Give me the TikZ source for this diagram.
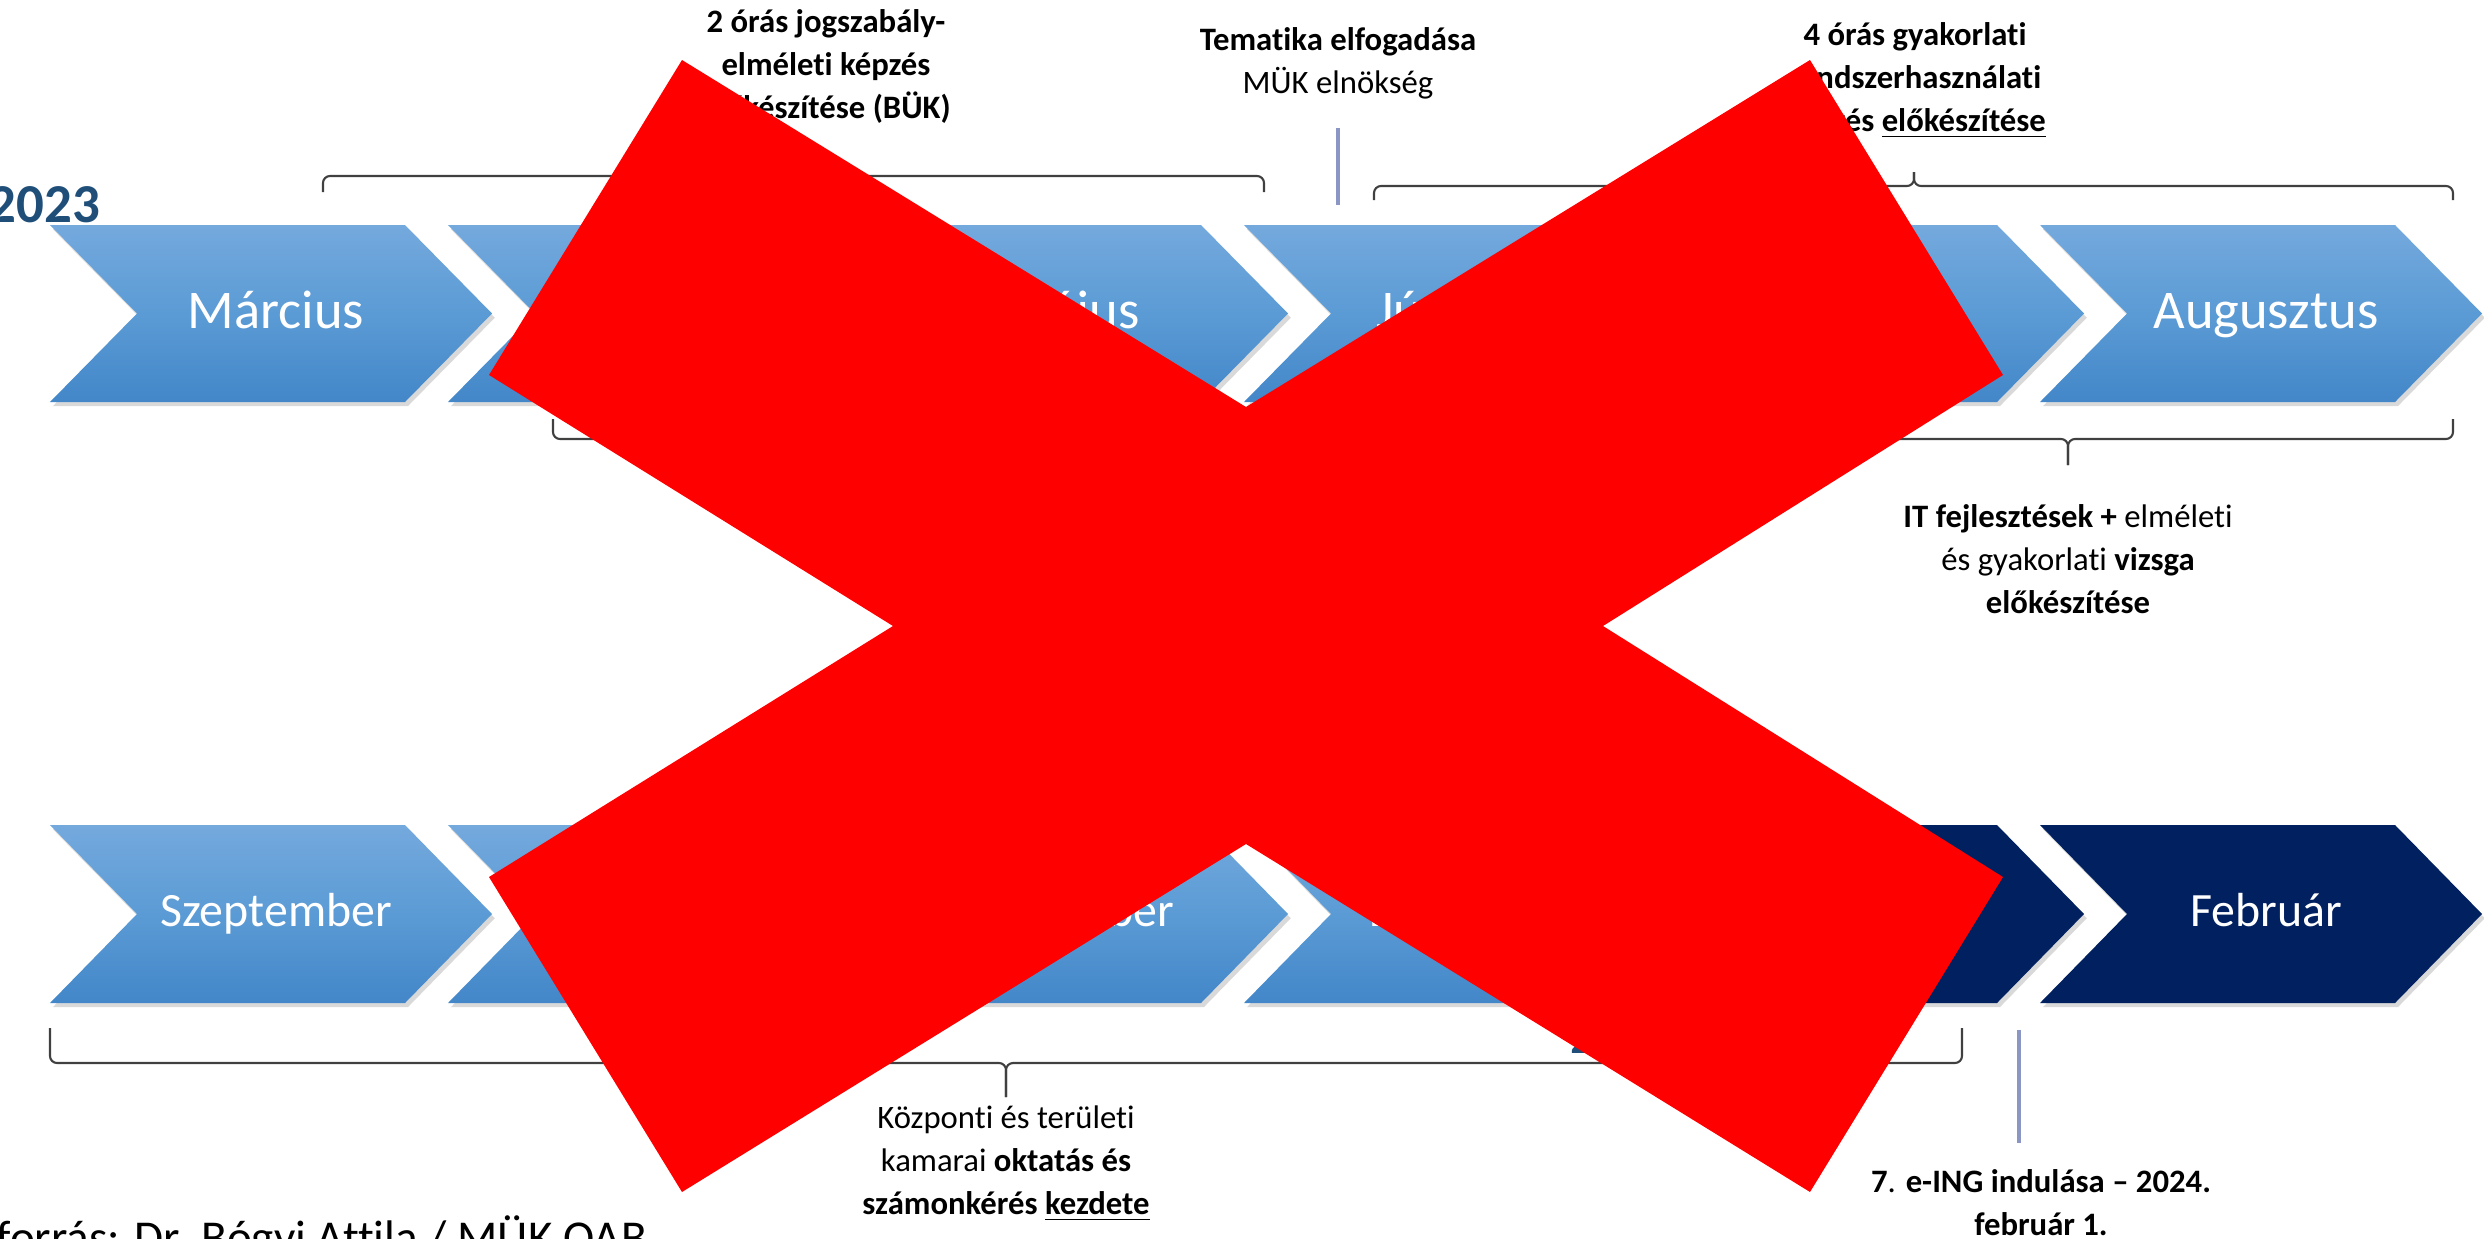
\documentclass[tikz,border=0pt]{standalone}
\usepackage{fontspec}
\setmainfont{Carlito}[Ligatures=NoCommon]
\usetikzlibrary{shadows}

\definecolor{chevtop}{HTML}{74A9DD}
\definecolor{chevmid}{HTML}{5B9BD5}
\definecolor{chevbot}{HTML}{4387C9}
\definecolor{navy}{HTML}{002060}
\definecolor{yearblue}{HTML}{1F4E79}
\definecolor{tickblue}{HTML}{8C96C4}
\definecolor{xred}{HTML}{FF0000}

\tikzset{
  chev/.style={top color=chevtop, bottom color=chevbot, middle color=chevmid,
    drop shadow={opacity=0.3, shadow xshift=0.8pt, shadow yshift=-1.2pt}},
  chevdark/.style={fill=navy,
    drop shadow={opacity=0.3, shadow xshift=0.8pt, shadow yshift=-1.2pt}},
  monthtext/.style={anchor=base, inner sep=0pt, text=white},
  notetext/.style={anchor=north, inner sep=0pt, align=center,
    font=\fontsize{9.3}{12.2}\selectfont},
  yeartext/.style={anchor=base west, inner sep=0pt, text=yearblue,
    font=\fontsize{15.6}{18}\selectfont\bfseries},
  braceline/.style={draw=black!75, line width=0.6pt, rounded corners=2pt},
  tickline/.style={draw=tickblue, line width=1pt},
}

\begin{document}
\begin{tikzpicture}[x=0.01cm,y=-0.01cm]
  \useasboundingbox (0,0) rectangle (2484,1239);
  % left end, right end, tip x, bar y, hook, tip
  \def\ppbrace#1#2#3#4#5#6{%
    \draw[braceline] (#1,{#4+(#5)}) -- (#1,#4) -- (#3,#4) -- (#3,{#4-(#6)});
    \draw[braceline] (#2,{#4+(#5)}) -- (#2,#4) -- (#3,#4) -- (#3,{#4-(#6)});}

  % 2023
  \node[yeartext] (year) at (-12,222) {2023};
  \foreach \m/\dx [count=\i from 0] in {Március/0,Április/0,Május/0,Június/-25,
      Július/0,Augusztus/0}{
    \pgfmathsetmacro\xa{50+398*\i}
    \path[chev] (\xa,225) -- ++(355,0) -- ++(87,88.5) -- ++(-87,88.5)
      -- ++(-355,0) -- ++(87,-88.5) -- cycle;
    \node[monthtext, font=\fontsize{15.5}{18}\selectfont] (m\i) at (\xa+226+\dx,328) {\m};
  }

  % 2024
  \foreach \m/\st [count=\i from 0] in {Szeptember/chev,Október/chev,November/chev,
      December/chev,Január/chevdark,Február/chevdark}{
    \pgfmathsetmacro\xa{50+398*\i}
    \path[\st] (\xa,825) -- ++(355,0) -- ++(87,89) -- ++(-87,89)
      -- ++(-355,0) -- ++(87,-89) -- cycle;
    \node[monthtext, font=\fontsize{13.6}{16}\selectfont] (n\i) at (\xa+226,926) {\m};
  }
  \node[yeartext] (yearnext) at (1570,1053) {2024};

  % notes above
  \node[notetext, font=\fontsize{9.3}{12.2}\selectfont\bfseries] (noteBUK) at (826,9)
    {2 órás jogszabály-\\elméleti képzés\\előkészítése (BÜK)};
  \node[notetext] (noteTema) at (1338,27) {\textbf{Tematika elfogadása}\\MÜK elnökség};
  \node[notetext, font=\fontsize{9.3}{12.2}\selectfont\bfseries] (noteGyak) at (1915,22)
    {4 órás gyakorlati\\rendszerhasználati\\képzés \underline{előkészítése}};
  \ppbrace{323}{1264}{794}{176}{16}{16}
  \ppbrace{1374}{2453}{1914}{186}{14}{14}
  \coordinate (temafoot) at (1338,205);
  \draw[tickline, shorten <=0.28cm] (temafoot |- noteTema.south) -- (temafoot);

  % notes below
  \ppbrace{553}{2453}{2068}{439}{-20}{-26}
  \node[notetext] (noteIT) at (2068,504)
    {\textbf{IT fejlesztések +} elméleti\\és gyakorlati \textbf{vizsga}\\\textbf{előkészítése}};
  \ppbrace{50}{1962}{1006}{1063}{-35}{-34}
  \node[notetext] (noteOkt) at (1006,1105)
    {Központi és területi\\kamarai \textbf{oktatás és}\\\textbf{számonkérés \underline{kezdete}}};
  \node[notetext] (noteING) at (2041,1169)
    {\textbf{7}. \textbf{e-ING indulása – 2024.}\\\textbf{február 1.}};
  \coordinate (ingtop) at (2019,1030);
  \draw[tickline, shorten >=0.26cm] (ingtop) -- (ingtop |- noteING.north);

  \node[anchor=base west, inner sep=0pt, font=\fontsize{13.4}{16}\selectfont] (source)
    at (-4,1253) {forrás: Dr. Bógyi Attila / MÜK OAB};

  % red cross over everything
  \fill[xred] (682,60) -- (1246,407) -- (1810,60) -- (2003,375) -- (1603,626)
    -- (2003,877) -- (1810,1192) -- (1246,844) -- (682,1192) -- (489,877)
    -- (893,626) -- (489,375) -- cycle;
\end{tikzpicture}
\end{document}
